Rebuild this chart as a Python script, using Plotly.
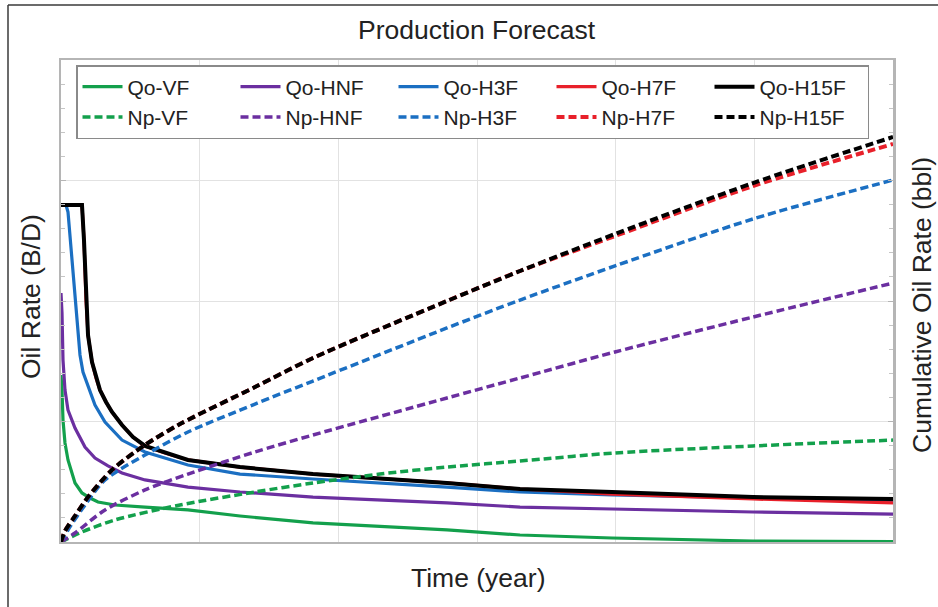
import plotly.graph_objects as go

# ---------------- data (time in years, rates in B/D, cumulative in Mbbl) ----------------
qo_vf_t = [0, 0.036, 0.072, 0.144, 0.252, 0.397, 0.505, 0.757, 1.046, 1.334, 1.947, 3.029, 4.579,
           6.454, 9.087, 13.918, 16.551, 19.868, 24.952, 30]
qo_vf_q = [138.6, 126.1, 101.2, 82.2, 68.1, 56.4, 49.0, 40.7, 36.5, 33.2, 30.7, 29.0, 26.6,
           21.6, 15.8, 10.0, 5.8, 3.3, 0.8, 0.4]

qo_hnf_t = [0, 0.036, 0.072, 0.144, 0.252, 0.505, 0.865, 1.226, 1.695, 2.2, 3.029, 4.579,
            6.454, 9.087, 13.918, 16.551, 19.868, 24.952, 30]
qo_hnf_q = [206.6, 190.0, 151.0, 126.1, 109.5, 94.6, 78.8, 69.7, 63.1, 57.3, 51.5, 45.6,
            41.5, 37.3, 32.4, 29.0, 27.4, 24.9, 23.2]

qo_h3f_t = [0, 0.18, 0.252, 0.397, 0.541, 0.685, 0.793, 0.974, 1.226, 1.587, 2.2, 3.029, 4.579,
            6.454, 9.087, 13.918, 16.551, 19.868, 24.952, 30]
qo_h3f_q = [279.7, 279.7, 273.9, 234.0, 192.5, 155.2, 141.1, 130.3, 113.7, 99.6, 84.6, 74.7, 63.9,
            56.4, 52.3, 45.6, 41.5, 39.0, 36.5, 34.0]

qo_h7f_t = [0, 0.757, 0.829, 0.901, 0.974, 1.118, 1.262, 1.406, 1.623, 1.839, 2.2, 2.596, 3.029, 3.75,
            4.579, 6.454, 9.087, 13.918, 16.551, 19.868, 24.952, 30]
qo_h7f_q = [279.7, 279.7, 250.6, 200.8, 171.8, 149.4, 136.1, 126.1, 116.2, 107.9, 97.1, 87.1, 79.7, 73.9,
            68.1, 62.2, 56.4, 49.0, 44.0, 39.8, 35.7, 32.4]

qo_h15f_t = [0, 0.757, 0.829, 0.901, 0.974, 1.118, 1.262, 1.406, 1.623, 1.839, 2.2, 2.596, 3.029, 3.75,
             4.579, 6.454, 9.087, 13.918, 16.551, 19.868, 24.952, 30]
qo_h15f_q = [279.7, 279.7, 250.6, 200.8, 171.8, 149.4, 136.1, 126.1, 116.2, 107.9, 97.1, 87.1, 79.7, 73.9,
             68.1, 62.2, 56.4, 49.0, 44.0, 41.5, 37.3, 35.7]

np_vf_t = [0, 0.757, 1.947, 4.291, 6.995, 9.087, 11.502, 13.918, 16.551, 19.976, 24.952, 30]
np_vf_n = [0, 8.3, 18.3, 30.7, 41.5, 49.0, 56.4, 62.2, 67.2, 73.9, 79.7, 84.6]

np_hnf_t = [0, 0.505, 1.587, 3.029, 4.579, 6.995, 9.087, 13.918, 16.551, 19.976, 24.952, 30]
np_hnf_n = [0, 7.5, 26.6, 43.2, 56.4, 74.7, 88.8, 119.5, 136.1, 157.7, 186.7, 214.9]

np_h3f_t = [0, 0.252, 0.865, 1.587, 3.029, 4.579, 6.995, 9.087, 13.918, 16.551, 19.976, 24.952, 30]
np_h3f_n = [0, 10.0, 30.7, 51.5, 72.2, 91.3, 114.5, 133.6, 177.6, 200.8, 229.1, 268.1, 300.4]

np_h7f_t = [0, 0.144, 0.505, 0.974, 1.839, 3.029, 4.291, 6.995, 9.087, 13.918, 16.551, 19.976, 24.952, 30]
np_h7f_n = [0, 9.1, 21.6, 37.3, 59.8, 80.5, 97.9, 128.6, 152.7, 200.0, 224.9, 253.9, 295.4, 330.3]

np_h15f_t = [0, 0.144, 0.505, 0.974, 1.839, 3.029, 4.291, 6.995, 9.087, 13.918, 16.551, 19.976, 24.952, 30]
np_h15f_n = [0, 9.1, 21.6, 37.3, 59.8, 80.5, 97.9, 128.6, 152.7, 200.0, 224.9, 255.6, 297.9, 336.1]

qo_names = ["Qo-VF", "Qo-HNF", "Qo-H3F", "Qo-H7F", "Qo-H15F"]
np_names = ["Np-VF", "Np-HNF", "Np-H3F", "Np-H7F", "Np-H15F"]
colors = ["#13a04c", "#6b2fa0", "#1b6fc2", "#e8202a", "#000000"]

qo_series = [(qo_vf_t, qo_vf_q), (qo_hnf_t, qo_hnf_q), (qo_h3f_t, qo_h3f_q),
             (qo_h7f_t, qo_h7f_q), (qo_h15f_t, qo_h15f_q)]
np_series = [(np_vf_t, np_vf_n), (np_hnf_t, np_hnf_n), (np_h3f_t, np_h3f_n),
             (np_h7f_t, np_h7f_n), (np_h15f_t, np_h15f_n)]

FONT = "Liberation Sans, Arial, sans-serif"

fig = go.Figure()
for i, (name, (t, q)) in enumerate(zip(qo_names, qo_series)):
    fig.add_trace(go.Scatter(
        x=t, y=q, name=name, mode="lines",
        line=dict(color=colors[i], width=4 if i == 4 else 3.2, shape="linear"),
        yaxis="y", legendrank=i + 1))
for i, (name, (t, n)) in enumerate(zip(np_names, np_series)):
    fig.add_trace(go.Scatter(
        x=t, y=n, name=name, mode="lines",
        line=dict(color=colors[i], width=4 if i >= 3 else 3.5, dash="8px,4px",
                  shape="spline", smoothing=0.8),
        yaxis="y2", legendrank=i + 6))

W, H = 938, 607
L, R, T, B = 61, 45, 60, 65
pw, ph = W - L - R, H - T - B


def px(xp):
    return (xp - L) / pw


def py(yp):
    return (H - B - yp) / ph


fig.update_layout(
    width=W, height=H,
    margin=dict(l=L, r=R, t=T, b=B, pad=0),
    paper_bgcolor="white", plot_bgcolor="white",
    font=dict(family=FONT, color="#222"),
    showlegend=True,
    legend=dict(
        orientation="h", x=px(76), y=py(65), xanchor="left", yanchor="top",
        bgcolor="white", bordercolor="#8a8a8a", borderwidth=1.5,
        font=dict(size=21, family=FONT, color="#222"),
        entrywidth=103, entrywidthmode="pixels",
        traceorder="normal", itemwidth=40, tracegroupgap=0,
    ),
    xaxis=dict(range=[0, 30], dtick=5, showticklabels=False, showgrid=True,
               gridcolor="#e2e2e2", gridwidth=1.2, zeroline=False,
               showline=True, linecolor="#b5b5b5", linewidth=2, mirror=True,
               ticks="", fixedrange=True),
    yaxis=dict(range=[0, 400], dtick=100, showticklabels=False, showgrid=True,
               gridcolor="#e2e2e2", gridwidth=1.2, zeroline=False,
               showline=True, linecolor="#b5b5b5", linewidth=2,
               ticks="inside", ticklen=5, tickcolor="#b5b5b5",
               minor=dict(dtick=20, ticks="inside", ticklen=4, tickcolor="#c5c5c5", showgrid=False)),
    yaxis2=dict(range=[0, 400], dtick=100, overlaying="y", side="right",
                showticklabels=False, showgrid=False, zeroline=False,
                showline=True, linecolor="#b5b5b5", linewidth=3,
                ticks="inside", ticklen=5, tickcolor="#b5b5b5",
                minor=dict(dtick=20, ticks="inside", ticklen=4, tickcolor="#c5c5c5")),
    annotations=[
        dict(text="Production Forecast", x=0.5, y=py(30), xref="paper", yref="paper",
             showarrow=False, xanchor="center", yanchor="middle",
             font=dict(size=26.5, family=FONT, color="#222")),
        dict(text="Time (year)", x=px(478), y=py(578), xref="paper", yref="paper",
             showarrow=False, xanchor="center", yanchor="middle",
             font=dict(size=26.5, family=FONT, color="#222")),
        dict(text="Oil Rate (B/D)", x=px(31), y=py(297), xref="paper", yref="paper",
             showarrow=False, xanchor="center", yanchor="middle", textangle=-90,
             font=dict(size=26.5, family=FONT, color="#222")),
        dict(text="Cumulative Oil Rate (bbl)", x=px(922), y=py(305), xref="paper", yref="paper",
             showarrow=False, xanchor="center", yanchor="middle", textangle=-90,
             font=dict(size=26.5, family=FONT, color="#222")),
    ],
    shapes=[
        dict(type="line", xref="paper", yref="paper", x0=px(8), x1=px(8), y0=py(607), y1=py(5),
             line=dict(color="#3a3a3a", width=1.5)),
        dict(type="line", xref="paper", yref="paper", x0=px(8), x1=px(938), y0=py(5), y1=py(5),
             line=dict(color="#3a3a3a", width=1.5)),
    ],
)

fig.write_html("out.html")
